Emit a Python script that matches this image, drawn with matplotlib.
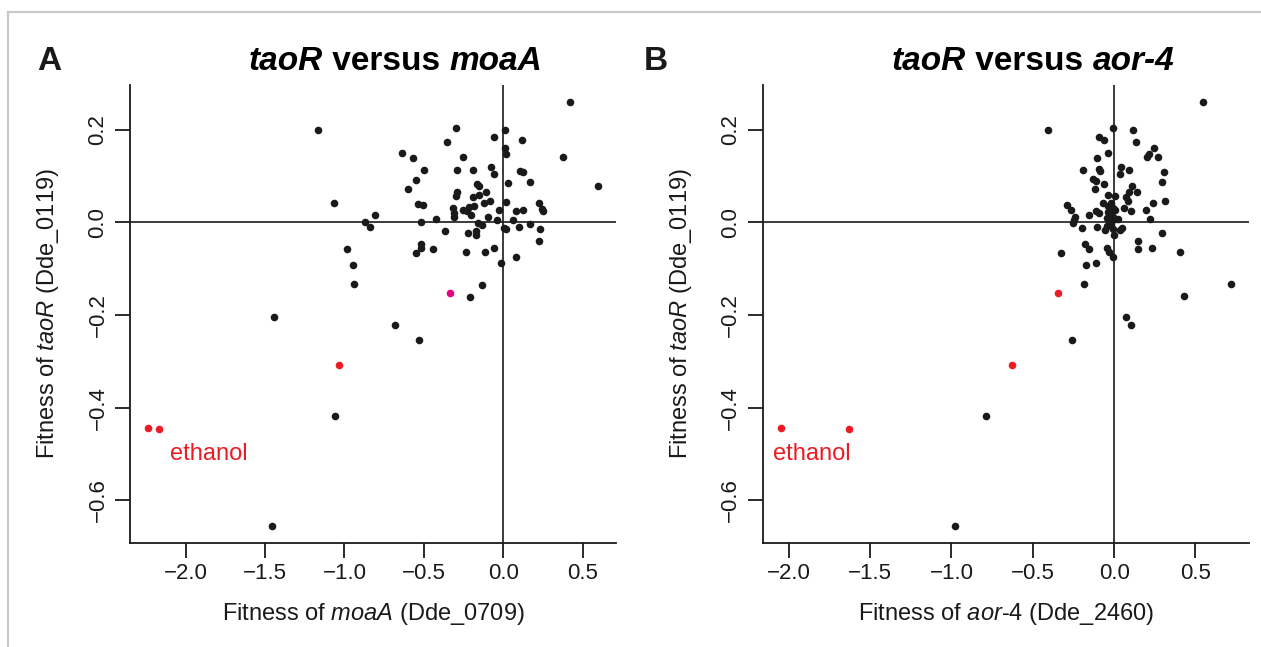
import matplotlib.pyplot as plt
from matplotlib.lines import Line2D
from matplotlib.ticker import FuncFormatter

plt.rcParams['font.family'] = ['Liberation Sans', 'DejaVu Sans']
plt.rcParams['mathtext.fontset'] = 'custom'
plt.rcParams['mathtext.rm'] = 'Liberation Sans'
plt.rcParams['mathtext.it'] = 'Liberation Sans:italic'
plt.rcParams['mathtext.bf'] = 'Liberation Sans:bold'

# panel A: taoR vs moaA (black points)
a_x = [0.418, -0.296, 0.013, -0.057, 0.118, -0.355, 0.008, 0.019, -0.639, -0.567,
       -0.256, 0.372, -0.502, -0.294, -0.193, -0.080, -0.061, 0.105, 0.124, -0.551,
       0.170, 0.027, -0.599, -0.168, -0.151, 0.595, -0.290, -0.296, -0.191, -0.156,
       -0.107, -0.538, -0.509, -0.120, -0.082, 0.017, 0.221, 0.244, 0.250, -0.315,
       -0.313, -0.313, -0.252, -0.231, -0.214, -0.202, -0.185, -0.027, 0.076, 0.122,
       -0.805, -0.870, -0.839, -0.517, -0.425, -0.097, -0.042, 0.059, -0.158, -0.132,
       0.002, 0.019, 0.097, 0.166, 0.227, -0.370, -0.223, -0.174, -0.172, 0.225,
       -0.517, -0.521, -0.549, -0.446, -0.235, -0.118, -0.057, 0.078, -0.013,
       -1.169, -1.066, -0.982, -0.948, -0.942, -1.446, -1.059, -1.455,
       -0.137, -0.213, -0.685, -0.532]
a_y = [0.260, 0.204, 0.199, 0.184, 0.177, 0.174, 0.161, 0.148, 0.150, 0.138,
       0.142, 0.141, 0.113, 0.114, 0.114, 0.119, 0.104, 0.111, 0.109, 0.092,
       0.087, 0.086, 0.073, 0.082, 0.079, 0.079, 0.066, 0.057, 0.054, 0.060,
       0.066, 0.040, 0.038, 0.041, 0.046, 0.044, 0.042, 0.028, 0.025, 0.030,
       0.021, 0.011, 0.027, 0.025, 0.033, 0.016, 0.035, 0.026, 0.024, 0.027,
       0.017, 0.000, -0.011, 0.001, 0.007, 0.011, 0.006, 0.005, -0.001, -0.006,
       -0.012, -0.015, -0.009, -0.003, -0.014, -0.018, -0.024, -0.019, -0.028, -0.040,
       -0.046, -0.056, -0.067, -0.057, -0.063, -0.064, -0.056, -0.074, -0.088,
       0.199, 0.041, -0.058, -0.092, -0.134, -0.204, -0.417, -0.655,
       -0.135, -0.161, -0.221, -0.254]
a_red_x = [-2.236, -2.165, -1.032]
a_red_y = [-0.443, -0.447, -0.307]
a_pink_x = [-0.336]
a_pink_y = [-0.152]

# panel B: taoR vs aor-4 (black points)
b_x = [0.546, -0.407, -0.006, 0.119, -0.092, -0.062, 0.133, -0.037, 0.246, 0.216,
       0.201, 0.271, -0.107, -0.193, -0.092, -0.084, 0.045, 0.039, 0.094, 0.308,
       -0.131, -0.111, 0.296, -0.117, -0.062, 0.109, 0.092, 0.140, -0.035, 0.004,
       0.076, 0.086, -0.292, -0.263, -0.240, -0.246, -0.255, -0.156, -0.111, -0.090,
       -0.066, -0.037, -0.021, -0.008, 0.008, -0.037, -0.021, -0.045, -0.008, -0.029,
       0.004, 0.025, 0.058, 0.107, 0.195, 0.238, 0.314, 0.218, -0.197, -0.107,
       -0.058, -0.041, -0.021, -0.008, 0.000, 0.037, 0.049, 0.296, -0.179, -0.152,
       -0.325, -0.045, -0.029, -0.008, 0.148, 0.148, 0.232, 0.403, -0.175, -0.111,
       -0.185, 0.431, 0.719, 0.072, 0.105, -0.261, -0.789, -0.978]
b_y = [0.260, 0.199, 0.204, 0.199, 0.185, 0.177, 0.174, 0.150, 0.161, 0.148,
       0.142, 0.141, 0.138, 0.114, 0.115, 0.111, 0.119, 0.104, 0.114, 0.109,
       0.093, 0.090, 0.087, 0.073, 0.082, 0.079, 0.066, 0.066, 0.059, 0.057,
       0.054, 0.047, 0.038, 0.027, 0.012, 0.005, -0.001, 0.017, 0.024, 0.021,
       0.041, 0.035, 0.041, 0.031, 0.027, 0.022, 0.015, 0.009, 0.012, 0.004,
       0.007, 0.007, 0.030, 0.025, 0.027, 0.041, 0.046, 0.008, -0.012, -0.009,
       -0.017, -0.008, -0.004, -0.014, -0.027, -0.017, -0.012, -0.023, -0.046, -0.057,
       -0.066, -0.056, -0.065, -0.074, -0.040, -0.058, -0.056, -0.063, -0.092, -0.088,
       -0.134, -0.160, -0.134, -0.205, -0.222, -0.254, -0.417, -0.655]
b_red_x = [-2.050, -1.627, -0.628, -0.347]
b_red_y = [-0.443, -0.447, -0.307, -0.152]

xticks = [-2.0, -1.5, -1.0, -0.5, 0.0, 0.5]
yticks = [-0.6, -0.4, -0.2, 0.0, 0.2]

BLACK = '#1a1a1a'
RED = '#ec1c24'
PINK = '#e6007e'
DOT = 30


def fmt(v, pos):
    s = f"{v:.1f}"
    if s == "-0.0":
        s = "0.0"
    return s.replace("-", "\u2212")


def setup(ax, xlabel):
    ax.axhline(0, color=BLACK, lw=1.2, zorder=1)
    ax.axvline(0, color=BLACK, lw=1.2, zorder=1)
    ax.margins(0.04)
    for side in ['top', 'right']:
        ax.spines[side].set_visible(False)
    for side in ['left', 'bottom']:
        ax.spines[side].set_linewidth(1.3)
        ax.spines[side].set_color(BLACK)
    ax.set_xticks(xticks)
    ax.set_yticks(yticks)
    ax.xaxis.set_major_formatter(FuncFormatter(fmt))
    ax.yaxis.set_major_formatter(FuncFormatter(fmt))
    ax.tick_params(length=10.5, width=1.3, color=BLACK, labelsize=16, labelcolor=BLACK)
    ax.tick_params(axis='x', pad=4)
    ax.tick_params(axis='y', pad=5)
    for lab in ax.get_yticklabels():
        lab.set_rotation(90)
        lab.set_va('center')
    ax.set_xlabel(xlabel, fontsize=17, labelpad=12, color=BLACK)
    ax.set_ylabel(r"Fitness of $\mathit{taoR}$ (Dde_0119)", fontsize=17, labelpad=19, color=BLACK)
    ax.text(-2.1, -0.5, "ethanol", color=RED, fontsize=17, ha='left', va='center')


def title(fig, ax, x, y, pieces):
    t = ax.text(x, y, pieces[0][0], transform=fig.transFigure, fontsize=24,
                fontweight='bold', style=pieces[0][1], va='bottom', ha='left')
    for s, st in pieces[1:]:
        t = ax.annotate(s, xy=(1, 0), xycoords=t, fontsize=24, fontweight='bold',
                        style=st, va='bottom', ha='left', annotation_clip=False)


fig = plt.figure(figsize=(12.61, 6.47), dpi=100)
ax1 = fig.add_axes([130 / 1261, 1 - 542.7 / 647, 486 / 1261, 457.7 / 647])
ax2 = fig.add_axes([762.7 / 1261, 1 - 542.7 / 647, 486.3 / 1261, 457.7 / 647])

ax1.scatter(a_x, a_y, s=DOT, color=BLACK, linewidths=0, zorder=3)
ax1.scatter(a_red_x, a_red_y, s=DOT, color=RED, linewidths=0, zorder=3)
ax1.scatter(a_pink_x, a_pink_y, s=DOT, color=PINK, linewidths=0, zorder=3)
setup(ax1, r"Fitness of $\mathit{moaA}$ (Dde_0709)")

ax2.scatter(b_x, b_y, s=DOT, color=BLACK, linewidths=0, zorder=3)
ax2.scatter(b_red_x, b_red_y, s=DOT, color=RED, linewidths=0, zorder=3)
setup(ax2, r"Fitness of $\mathit{aor}$-$\mathit{4}$ (Dde_2460)")

title(fig, ax1, 249 / 1261, 1 - 77 / 647, [("taoR", 'italic'), (" versus ", 'normal'), ("moaA", 'italic')])
title(fig, ax2, 892 / 1261, 1 - 77 / 647, [("taoR", 'italic'), (" versus ", 'normal'), ("aor-4", 'italic')])
fig.text(37 / 1261, 1 - 70 / 647, "A", fontsize=24, fontweight='bold', va='baseline', color=BLACK)
fig.text(644 / 1261, 1 - 70 / 647, "B", fontsize=24, fontweight='bold', va='baseline', color=BLACK)

# thin grey frame
fig.add_artist(Line2D([8 / 1261, 1], [1 - 12 / 647, 1 - 12 / 647], transform=fig.transFigure,
                      color='#c8c8c8', lw=1.5))
fig.add_artist(Line2D([8 / 1261, 8 / 1261], [0, 1 - 12 / 647], transform=fig.transFigure,
                      color='#c8c8c8', lw=1.5))

fig.savefig("out.png", dpi=100)
